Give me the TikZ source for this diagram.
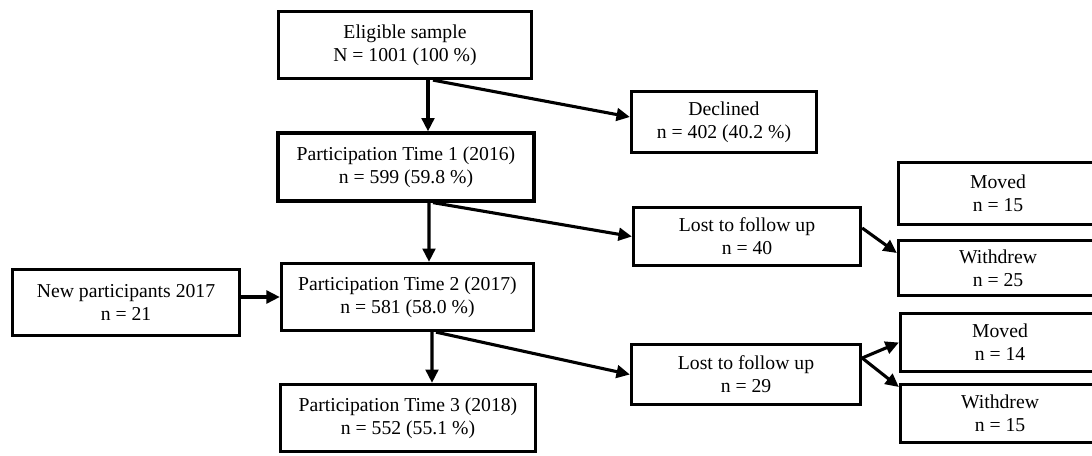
\documentclass[tikz,border=0pt]{standalone}
\usepackage{fontspec}
\setmainfont{Liberation Serif}
\usetikzlibrary{arrows.meta,calc}

\tikzset{
	box/.style={draw, line width=2.3pt, align=center, inner sep=0pt, font=\fontsize{14}{16.5}\selectfont},
	arr/.style={line width=2.2pt, -{Triangle[length=9.5pt,width=9pt]}}
}

\begin{document}
\begin{tikzpicture}[x=0.025cm,y=-0.025cm]
	\clip (0,0) rectangle (1092,455);
	\node[box, minimum width=6.325cm, minimum height=1.675cm] (elig) at (405,45) {Eligible sample\\N = 1001 (100 \%)};
	\node[box, minimum width=4.625cm, minimum height=1.525cm] (decl) at (724,122) {Declined\\n = 402 (40.2 \%)};
	\node[box, minimum width=6.4cm, minimum height=1.7cm] (part1) at (406,167) {Participation Time 1 (2016)\\n = 599 (59.8 \%)};
	\node[box, minimum width=5.675cm, minimum height=1.45cm] (lost1) at (747,236.5) {Lost to follow up\\n = 40};
	\node[box, minimum width=4.975cm, minimum height=1.55cm] (moved1) at (998,193.5) {Moved\\n = 15};
	\node[box, minimum width=4.975cm, minimum height=1.375cm] (withdr1) at (998,268) {Withdrew\\n = 25};
	\node[box, minimum width=5.675cm, minimum height=1.65cm] (newpart) at (126,302.5) {New participants 2017\\n = 21};
	\node[box, minimum width=6.3cm, minimum height=1.675cm] (part2) at (407.5,297) {Participation Time 2 (2017)\\n = 581 (58.0 \%)};
	\node[box, minimum width=6.375cm, minimum height=1.675cm] (part3) at (408,418) {Participation Time 3 (2018)\\n = 552 (55.1 \%)};
	\node[box, minimum width=5.725cm, minimum height=1.5cm] (lost2) at (746,374.5) {Lost to follow up\\n = 29};
	\node[box, minimum width=4.975cm, minimum height=1.45cm] (moved2) at (1000,342.5) {Moved\\n = 14};
	\node[box, minimum width=4.975cm, minimum height=1.45cm] (withdr2) at (1000,413.5) {Withdrew\\n = 15};

	\draw[arr] ($(elig.south)+(23,0)$) -- ($(part1.north)+(22,0)$);
	\draw[arr] ($(elig.south)+(28,0)$) -- ($(decl.west)+(0,-5)$);
	\draw[arr] ($(part1.south)+(23,0)$) -- ($(part2.north)+(21.5,0)$);
	\draw[arr] ($(part1.south)+(27,0)$) -- (lost1.west);
	\draw[arr] ($(lost1.east)+(0,-8.5)$) -- ($(withdr1.west)+(0,-15)$);
	\draw[arr] (newpart.east |- part2.west) -- (part2.west);
	\draw[arr] ($(part2.south)+(24.5,0)$) -- ($(part3.north)+(24,0)$);
	\draw[arr] ($(part2.south)+(28.5,0)$) -- (lost2.west);
	\draw[arr] ($(lost2.east)+(0,-16.5)$) -- (moved2.west);
	\draw[arr] ($(lost2.east)+(0,-16.5)$) -- ($(withdr2.west)+(0,-26.5)$);
\end{tikzpicture}
\end{document}
